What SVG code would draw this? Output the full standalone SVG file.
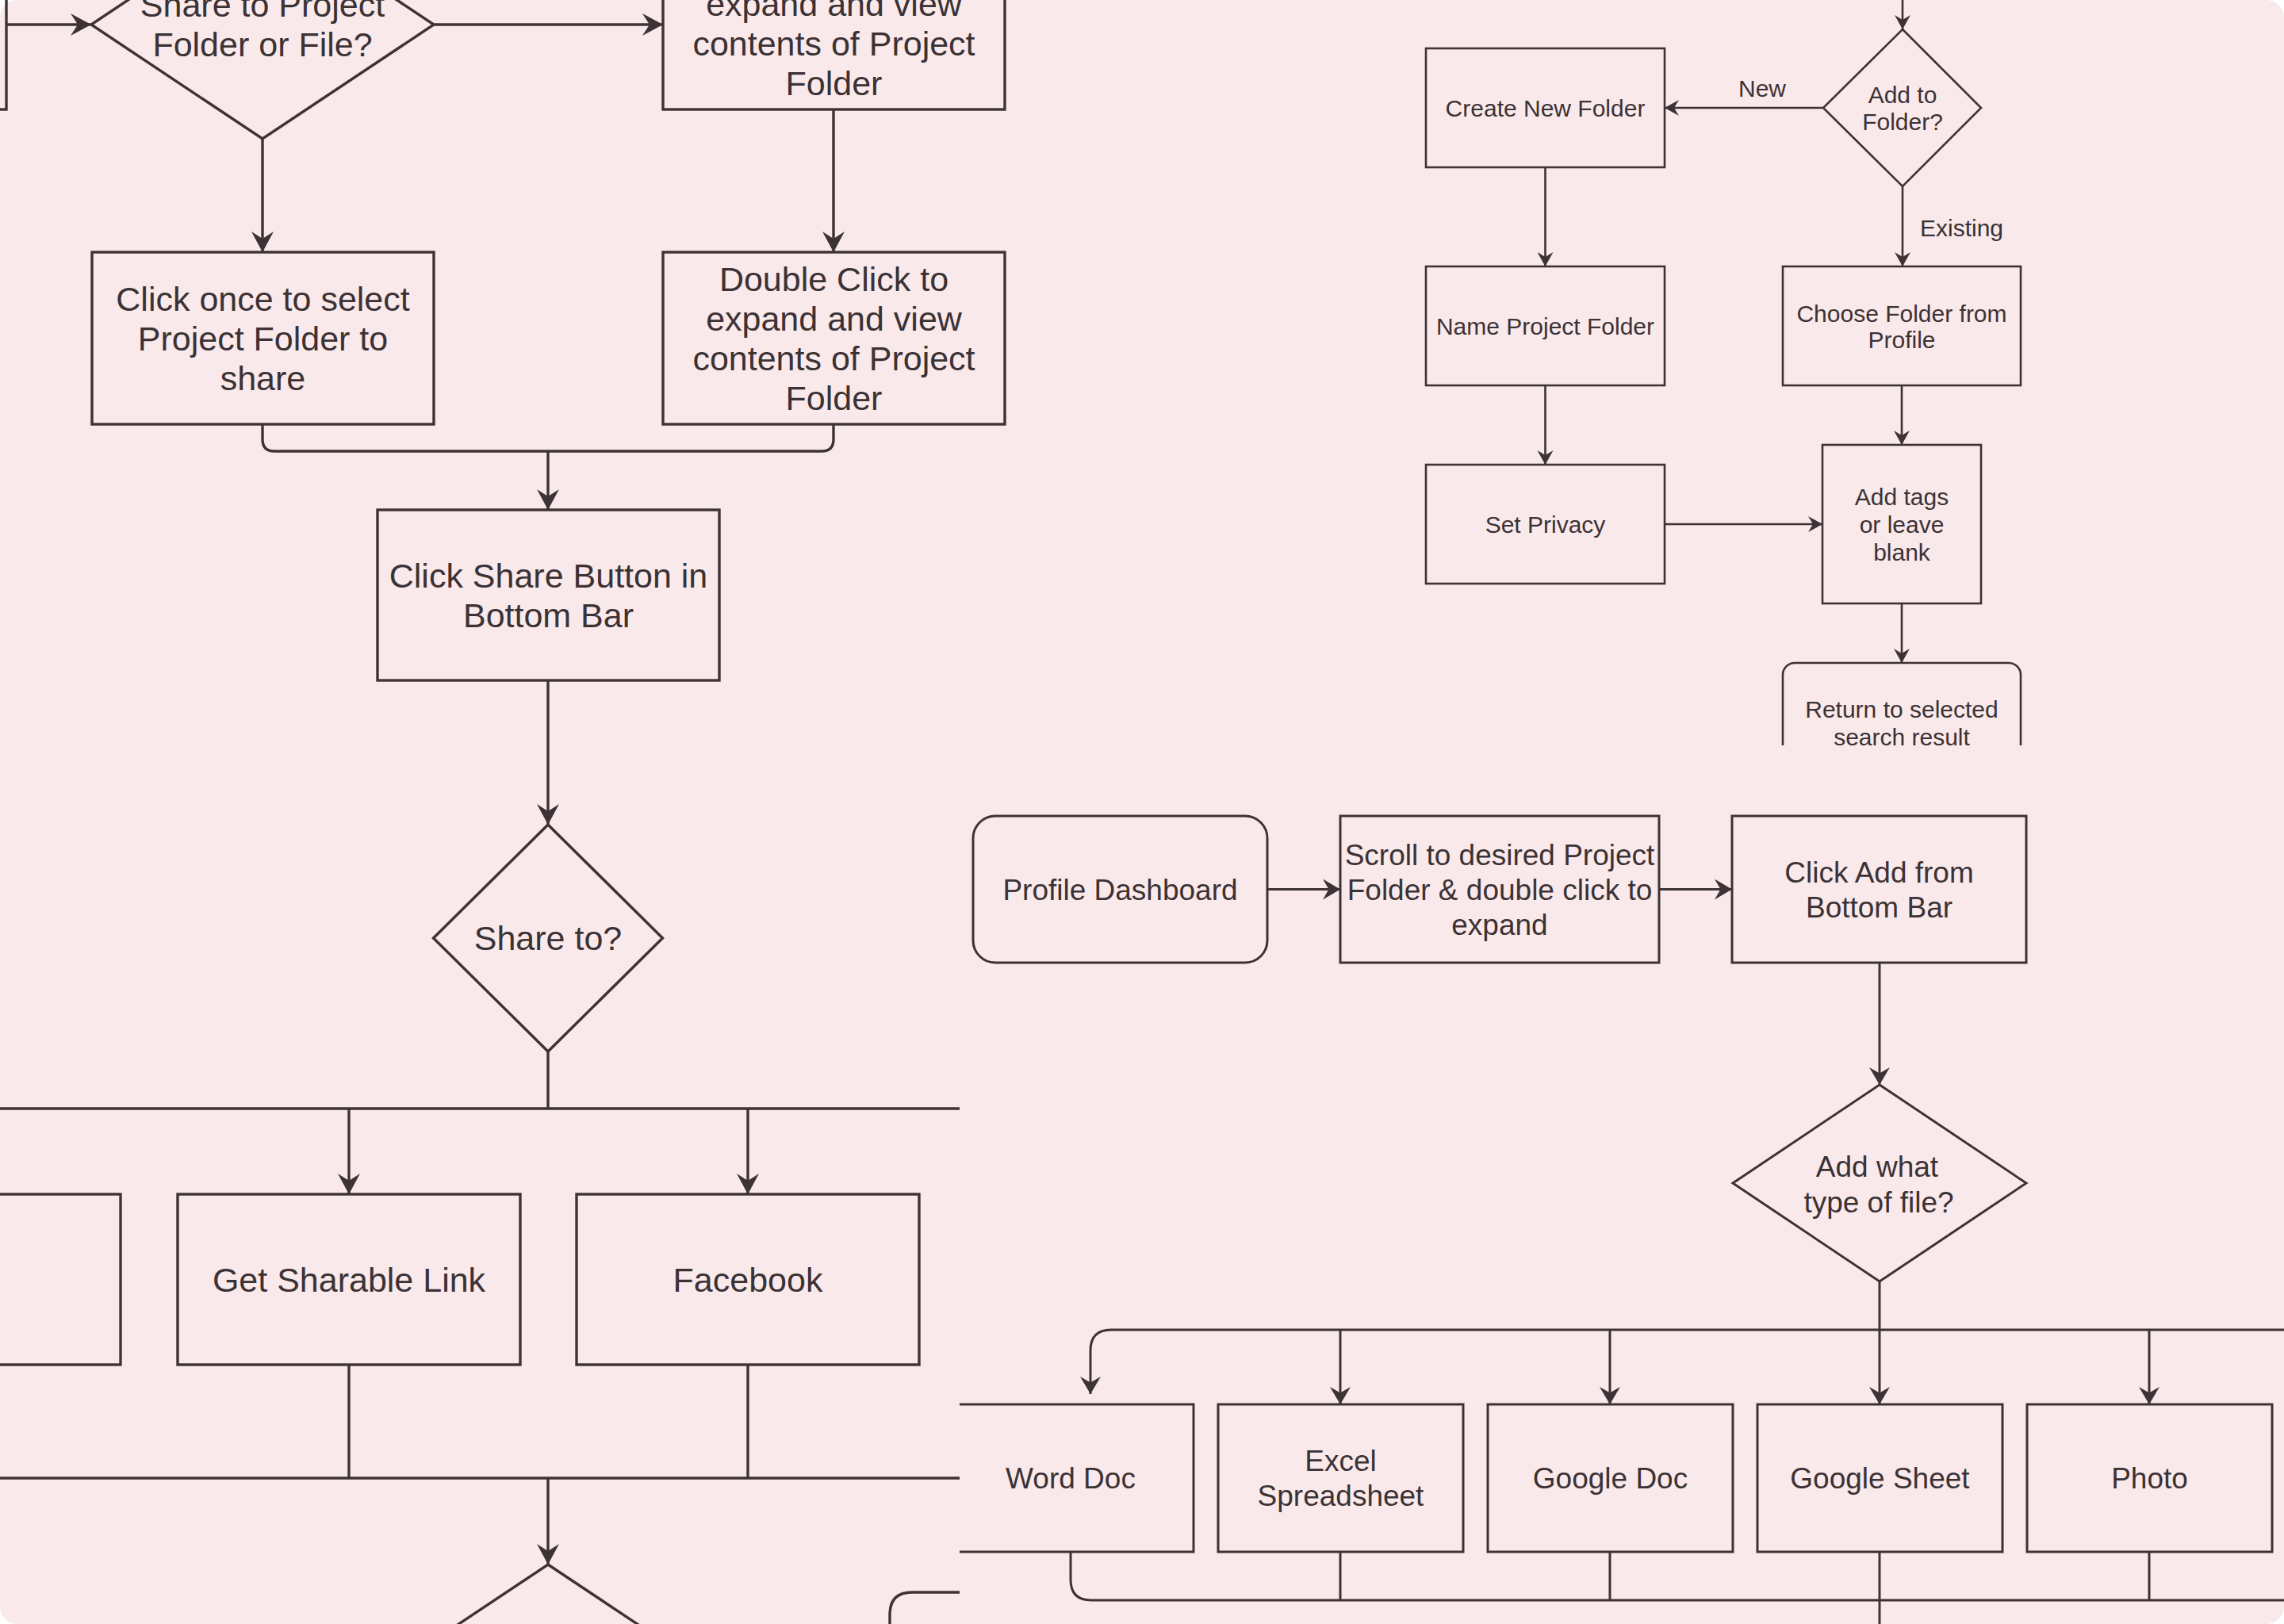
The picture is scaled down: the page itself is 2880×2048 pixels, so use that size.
<svg xmlns="http://www.w3.org/2000/svg" width="2880" height="2048" viewBox="0 0 2880 2048">
  <style>
    .shape{fill:none;stroke:#3d3235;stroke-linejoin:miter}
    .edge{fill:none;stroke:#3d3235}
    .wL{stroke-width:3.4}
    .wT{stroke-width:2.6}
    .wB{stroke-width:3}
    text{font-family:"Liberation Sans",Arial,Helvetica,sans-serif;fill:#3b3235;text-anchor:middle}
    .fL{font-size:43px}
    .fT{font-size:30px}
    .fB{font-size:37px}
    .lbl{font-size:30px}
  </style>
  <defs>
    <marker id="ahL" markerUnits="userSpaceOnUse" markerWidth="26" markerHeight="28" viewBox="0 0 26 28" refX="26" refY="14" orient="auto">
      <path d="M26,14 L0,0 L9,14 L0,28 Z" fill="#3d3235"/>
    </marker>
    <marker id="ahT" markerUnits="userSpaceOnUse" markerWidth="18" markerHeight="20" viewBox="0 0 18 20" refX="18" refY="10" orient="auto">
      <path d="M18,10 L0,0 L6,10 L0,20 Z" fill="#3d3235"/>
    </marker>
    <marker id="ahB" markerUnits="userSpaceOnUse" markerWidth="22" markerHeight="26" viewBox="0 0 22 26" refX="22" refY="13" orient="auto">
      <path d="M22,13 L0,0 L7.5,13 L0,26 Z" fill="#3d3235"/>
    </marker>
    <!-- share flow is visible left of the add-file panel -->
    <clipPath id="clipLeft"><path d="M0,0 H1300 V960 H1210 V2048 H0 Z"/></clipPath>
    <clipPath id="clipTop"><rect x="1600" y="0" width="1100" height="940"/></clipPath>
    <clipPath id="clipBottom"><rect x="1210" y="960" width="1670" height="1088"/></clipPath>
  </defs>

  <!-- canvas -->
  <rect x="0" y="0" width="2880" height="2048" fill="#ffffff"/>
  <rect x="0" y="0" width="2880" height="2048" rx="22" fill="#fae9ea"/>

  <!-- sharing flow -->
  <g id="share-flow" clip-path="url(#clipLeft)">
    <g id="connectors-share">
      <path class="edge wL" d="M8,31 H115" marker-end="url(#ahL)"/>
      <path class="edge wL" d="M547,31 H836" marker-end="url(#ahL)"/>
      <path class="edge wL" d="M331,175 V318" marker-end="url(#ahL)"/>
      <path class="edge wL" d="M1051,138 V318" marker-end="url(#ahL)"/>
      <path class="edge wL" d="M331,535 V554 Q331,569 346,569 H1036 Q1051,569 1051,554 V535"/>
      <path class="edge wL" d="M691,569 V643" marker-end="url(#ahL)"/>
      <path class="edge wL" d="M691,858 V1040" marker-end="url(#ahL)"/>
      <path class="edge wL" d="M691,1326 V1398"/>
      <path class="edge wL" d="M-10,1398 H1220"/>
      <path class="edge wL" d="M440,1398 V1506" marker-end="url(#ahL)"/>
      <path class="edge wL" d="M943,1398 V1506" marker-end="url(#ahL)"/>
      <path class="edge wL" d="M440,1721 V1864"/>
      <path class="edge wL" d="M943,1721 V1864"/>
      <path class="edge wL" d="M-10,1864 H1220"/>
      <path class="edge wL" d="M691,1864 V1973" marker-end="url(#ahL)"/>
      <path class="edge wL" d="M1220,2008 H1150 Q1122,2008 1122,2036 V2060"/>
    </g>

    <g id="node-prev">
      <rect class="shape wL" x="-423" y="-79" width="431" height="217"/>
    </g>
    <g id="node-folder-or-file">
      <polygon class="shape wL" points="331,-113 547,31 331,175 115,31"/>
      <text class="fL" x="331" y="21">Share to Project</text>
      <text class="fL" x="331" y="71">Folder or File?</text>
    </g>
    <g id="node-expand-top">
      <rect class="shape wL" x="836" y="-79" width="431" height="217"/>
      <text class="fL" x="1051.5" y="-30.5">Double Click to</text>
      <text class="fL" x="1051.5" y="19.5">expand and view</text>
      <text class="fL" x="1051.5" y="69.5">contents of Project</text>
      <text class="fL" x="1051.5" y="119.5">Folder</text>
    </g>
    <g id="node-select-folder">
      <rect class="shape wL" x="116" y="318" width="431" height="217"/>
      <text class="fL" x="331.5" y="391.5">Click once to select</text>
      <text class="fL" x="331.5" y="441.5">Project Folder to</text>
      <text class="fL" x="331.5" y="491.5">share</text>
    </g>
    <g id="node-expand-folder">
      <rect class="shape wL" x="836" y="318" width="431" height="217"/>
      <text class="fL" x="1051.5" y="366.5">Double Click to</text>
      <text class="fL" x="1051.5" y="416.5">expand and view</text>
      <text class="fL" x="1051.5" y="466.5">contents of Project</text>
      <text class="fL" x="1051.5" y="516.5">Folder</text>
    </g>
    <g id="node-share-button">
      <rect class="shape wL" x="476" y="643" width="431" height="215"/>
      <text class="fL" x="691.5" y="740.5">Click Share Button in</text>
      <text class="fL" x="691.5" y="790.5">Bottom Bar</text>
    </g>
    <g id="node-share-to">
      <polygon class="shape wL" points="691,1040 835.5,1183 691,1326 546.5,1183"/>
      <text class="fL" x="691" y="1198">Share to?</text>
    </g>
    <g id="node-share-left">
      <rect class="shape wL" x="-280" y="1506" width="432" height="215"/>
    </g>
    <g id="node-sharable-link">
      <rect class="shape wL" x="224" y="1506" width="432" height="215"/>
      <text class="fL" x="440" y="1629">Get Sharable Link</text>
    </g>
    <g id="node-facebook">
      <rect class="shape wL" x="727" y="1506" width="432" height="215"/>
      <text class="fL" x="943" y="1629">Facebook</text>
    </g>
    <g id="node-next-decision">
      <polygon class="shape wL" points="691,1973 907,2117 691,2261 475,2117"/>
    </g>
  </g>

  <!-- folder selection flow -->
  <g id="folder-flow" clip-path="url(#clipTop)">
    <g id="connectors-folder">
      <path class="edge wT" d="M2399,-10 V37" marker-end="url(#ahT)"/>
      <path class="edge wT" d="M2299,136 H2099" marker-end="url(#ahT)"/>
      <text class="lbl" x="2222" y="122">New</text>
      <path class="edge wT" d="M1948.5,211 V336" marker-end="url(#ahT)"/>
      <path class="edge wT" d="M1948.5,486 V586" marker-end="url(#ahT)"/>
      <path class="edge wT" d="M2399,235 V336" marker-end="url(#ahT)"/>
      <text class="lbl" x="2421" y="298" style="text-anchor:start">Existing</text>
      <path class="edge wT" d="M2398,486 V561" marker-end="url(#ahT)"/>
      <path class="edge wT" d="M2099,661 H2298" marker-end="url(#ahT)"/>
      <path class="edge wT" d="M2398,761 V836" marker-end="url(#ahT)"/>
    </g>

    <g id="node-add-to-folder">
      <polygon class="shape wT" points="2399,37 2498,136 2399,235 2299,136"/>
      <text class="fT" x="2399" y="130">Add to</text>
      <text class="fT" x="2399" y="164">Folder?</text>
    </g>
    <g id="node-create-folder">
      <rect class="shape wT" x="1798" y="61" width="301" height="150"/>
      <text class="fT" x="1948.5" y="146.5">Create New Folder</text>
    </g>
    <g id="node-name-folder">
      <rect class="shape wT" x="1798" y="336" width="301" height="150"/>
      <text class="fT" x="1948.5" y="421.5">Name Project Folder</text>
    </g>
    <g id="node-set-privacy">
      <rect class="shape wT" x="1798" y="586" width="301" height="150"/>
      <text class="fT" x="1948.5" y="672">Set Privacy</text>
    </g>
    <g id="node-choose-folder">
      <rect class="shape wT" x="2248" y="336" width="300" height="150"/>
      <text class="fT" x="2398" y="405.5">Choose Folder from</text>
      <text class="fT" x="2398" y="438.5">Profile</text>
    </g>
    <g id="node-add-tags">
      <rect class="shape wT" x="2298" y="561" width="200" height="200"/>
      <text class="fT" x="2398" y="637">Add tags</text>
      <text class="fT" x="2398" y="672">or leave</text>
      <text class="fT" x="2398" y="707">blank</text>
    </g>
    <g id="node-return">
      <rect class="shape wT" x="2248" y="836" width="300" height="150" rx="15"/>
      <text class="fT" x="2398" y="905">Return to selected</text>
      <text class="fT" x="2398" y="940">search result</text>
    </g>
  </g>

  <!-- add file flow -->
  <g id="add-file-flow" clip-path="url(#clipBottom)">
    <g id="connectors-add">
      <path class="edge wB" d="M1598,1121.5 H1690" marker-end="url(#ahB)"/>
      <path class="edge wB" d="M2092,1121.5 H2184" marker-end="url(#ahB)"/>
      <path class="edge wB" d="M2370,1214 V1368" marker-end="url(#ahB)"/>
      <path class="edge wB" d="M2370,1616 V1677"/>
      <path class="edge wB" d="M2890,1677 H1401 Q1375,1677 1375,1703 V1758" marker-end="url(#ahB)"/>
      <path class="edge wB" d="M1690,1677 V1771" marker-end="url(#ahB)"/>
      <path class="edge wB" d="M2030,1677 V1771" marker-end="url(#ahB)"/>
      <path class="edge wB" d="M2370,1677 V1771" marker-end="url(#ahB)"/>
      <path class="edge wB" d="M2710,1677 V1771" marker-end="url(#ahB)"/>
      <path class="edge wB" d="M1350,1957 V1992 Q1350,2018 1376,2018 H2890"/>
      <path class="edge wB" d="M1690,1957 V2018"/>
      <path class="edge wB" d="M2030,1957 V2018"/>
      <path class="edge wB" d="M2710,1957 V2018"/>
      <path class="edge wB" d="M2370,1957 V2060"/>
    </g>

    <g id="node-profile-dashboard">
      <rect class="shape wB" x="1227" y="1029" width="371" height="185" rx="28"/>
      <text class="fB" x="1412.5" y="1134.5">Profile Dashboard</text>
    </g>
    <g id="node-scroll-folder">
      <rect class="shape wB" x="1690" y="1029" width="402" height="185"/>
      <text class="fB" x="1891" y="1090.5">Scroll to desired Project</text>
      <text class="fB" x="1891" y="1134.5">Folder &amp; double click to</text>
      <text class="fB" x="1891" y="1178.5">expand</text>
    </g>
    <g id="node-click-add">
      <rect class="shape wB" x="2184" y="1029" width="371" height="185"/>
      <text class="fB" x="2369.5" y="1112.5">Click Add from</text>
      <text class="fB" x="2369.5" y="1156.5">Bottom Bar</text>
    </g>
    <g id="node-file-type">
      <polygon class="shape wB" points="2370,1368 2555,1492 2370,1616 2185,1492"/>
      <text class="fB" x="2367" y="1484">Add what</text>
      <text class="fB" x="2369" y="1529">type of file?</text>
    </g>
    <g id="node-word-doc">
      <rect class="shape wB" x="1196" y="1771" width="309" height="186"/>
      <text class="fB" x="1350" y="1877">Word Doc</text>
    </g>
    <g id="node-excel">
      <rect class="shape wB" x="1536" y="1771" width="309" height="186"/>
      <text class="fB" x="1690.5" y="1855">Excel</text>
      <text class="fB" x="1690.5" y="1899">Spreadsheet</text>
    </g>
    <g id="node-google-doc">
      <rect class="shape wB" x="1876" y="1771" width="309" height="186"/>
      <text class="fB" x="2030.5" y="1877">Google Doc</text>
    </g>
    <g id="node-google-sheet">
      <rect class="shape wB" x="2216" y="1771" width="309" height="186"/>
      <text class="fB" x="2370.5" y="1877">Google Sheet</text>
    </g>
    <g id="node-photo">
      <rect class="shape wB" x="2556" y="1771" width="309" height="186"/>
      <text class="fB" x="2710.5" y="1877">Photo</text>
    </g>
  </g>
</svg>
